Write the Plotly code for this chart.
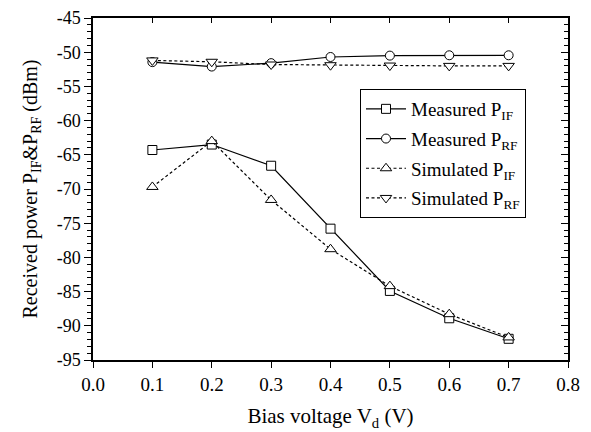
import plotly.graph_objects as go

bias_v = [0.1, 0.2, 0.3, 0.4, 0.5, 0.6, 0.7]
meas_pif = [-64.3, -63.5, -66.6, -75.8, -84.9, -88.9, -91.9]
meas_prf = [-51.45, -52.1, -51.6, -50.7, -50.5, -50.45, -50.45]
sim_pif = [-69.7, -63.0, -71.6, -78.8, -84.2, -88.3, -91.7]
sim_prf = [-51.2, -51.4, -51.8, -51.9, -51.95, -52.0, -52.0]

series_names = ["Measured P<sub>IF</sub>", "Measured P<sub>RF</sub>",
                "Simulated P<sub>IF</sub>", "Simulated P<sub>RF</sub>"]

y_ticks = [-45, -50, -55, -60, -65, -70, -75, -80, -85, -90, -95]
y_tick_text = ["-45", "-50", "-55", "-60", "-65", "-70", "-75", "-80", "-85", "-90", "-95"]
x_ticks = [0.0, 0.1, 0.2, 0.3, 0.4, 0.5, 0.6, 0.7, 0.8]
x_tick_text = ["0.0", "0.1", "0.2", "0.3", "0.4", "0.5", "0.6", "0.7", "0.8"]

FONT = "Liberation Serif"

fig = go.Figure()

def add(y, name, symbol, dash, size, grp):
    fig.add_trace(go.Scatter(
        x=bias_v, y=y, name=name, mode="lines+markers", legendgroup=grp,
        line=dict(color="black", width=1.2, dash=dash),
        marker=dict(symbol=symbol, size=size, color="white",
                    line=dict(color="black", width=1)),
    ))

add(meas_pif, series_names[0], "square", "solid", 9, "a")
add(meas_prf, series_names[1], "circle", "solid", 9, "b")
add(sim_pif, series_names[2], "triangle-up", "3px,2.5px", 10, "c")
add(sim_prf, series_names[3], "triangle-down", "3px,2.5px", 10, "d")

# dummy trace for mirrored top/right axes with inward ticks
fig.add_trace(go.Scatter(x=[0, 0.8], y=[-95, -45], xaxis="x2", yaxis="y2",
                         mode="markers", marker=dict(opacity=0),
                         showlegend=False, hoverinfo="skip"))

L, R, T, B = 85, 23, 10, 72
W, H = 583, 424
PW = W - L - R
PH = H - T - B

fig.update_layout(
    width=W, height=H,
    margin=dict(l=L, r=R, t=T, b=B, autoexpand=False),
    paper_bgcolor="white", plot_bgcolor="white",
    font=dict(family=FONT, size=19, color="black"),
    showlegend=True,
    legend=dict(
        x=(360 - 8 - L) / PW, y=1 - (89 - 8 - T) / PH, xanchor="left", yanchor="top",
        bgcolor="white", bordercolor="black", borderwidth=1,
        font=dict(family=FONT, size=19, color="black"),
        tracegroupgap=2, itemwidth=40,
    ),
    xaxis=dict(
        range=[0, 0.8], tickvals=x_ticks, ticktext=x_tick_text,
        ticks="outside", ticklen=6, tickwidth=1, tickcolor="black",
        showline=True, linecolor="black", linewidth=1.5,
        showgrid=False, zeroline=False, automargin=False,
        ticklabeloverflow="allow",
        title=dict(text="Bias voltage V<sub>d</sub> (V)",
                   font=dict(family=FONT, size=21), standoff=15),
        tickfont=dict(family=FONT, size=19),
    ),
    yaxis=dict(
        range=[-95, -45], tickvals=y_ticks, ticktext=y_tick_text,
        ticks="outside", ticklen=7, tickwidth=1, tickcolor="black",
        minor=dict(dtick=1, tick0=-95, ticks="outside", ticklen=4,
                   tickwidth=1, tickcolor="black", showgrid=False),
        showline=True, linecolor="black", linewidth=1.5,
        showgrid=False, zeroline=False, automargin=False,
        ticklabeloverflow="allow",
        title=dict(text="Received power P<sub>IF</sub>&P<sub>RF</sub> (dBm)",
                   font=dict(family=FONT, size=20), standoff=14),
        tickfont=dict(family=FONT, size=18),
    ),
    xaxis2=dict(
        overlaying="x", side="top", range=[0, 0.8], tickvals=x_ticks,
        showticklabels=False, ticks="inside", ticklen=5, tickwidth=1,
        tickcolor="black", showline=True, linecolor="black", linewidth=1.5,
        showgrid=False, zeroline=False, anchor="y2", automargin=False,
    ),
    yaxis2=dict(
        overlaying="y", side="right", range=[-95, -45], tickvals=y_ticks,
        showticklabels=False, ticks="inside", ticklen=7, tickwidth=1,
        tickcolor="black",
        minor=dict(dtick=1, tick0=-95, ticks="inside", ticklen=4,
                   tickwidth=1, tickcolor="black", showgrid=False),
        showline=True, linecolor="black", linewidth=1.5,
        showgrid=False, zeroline=False, anchor="x2", automargin=False,
    ),
)

fig.write_html("out.html")
